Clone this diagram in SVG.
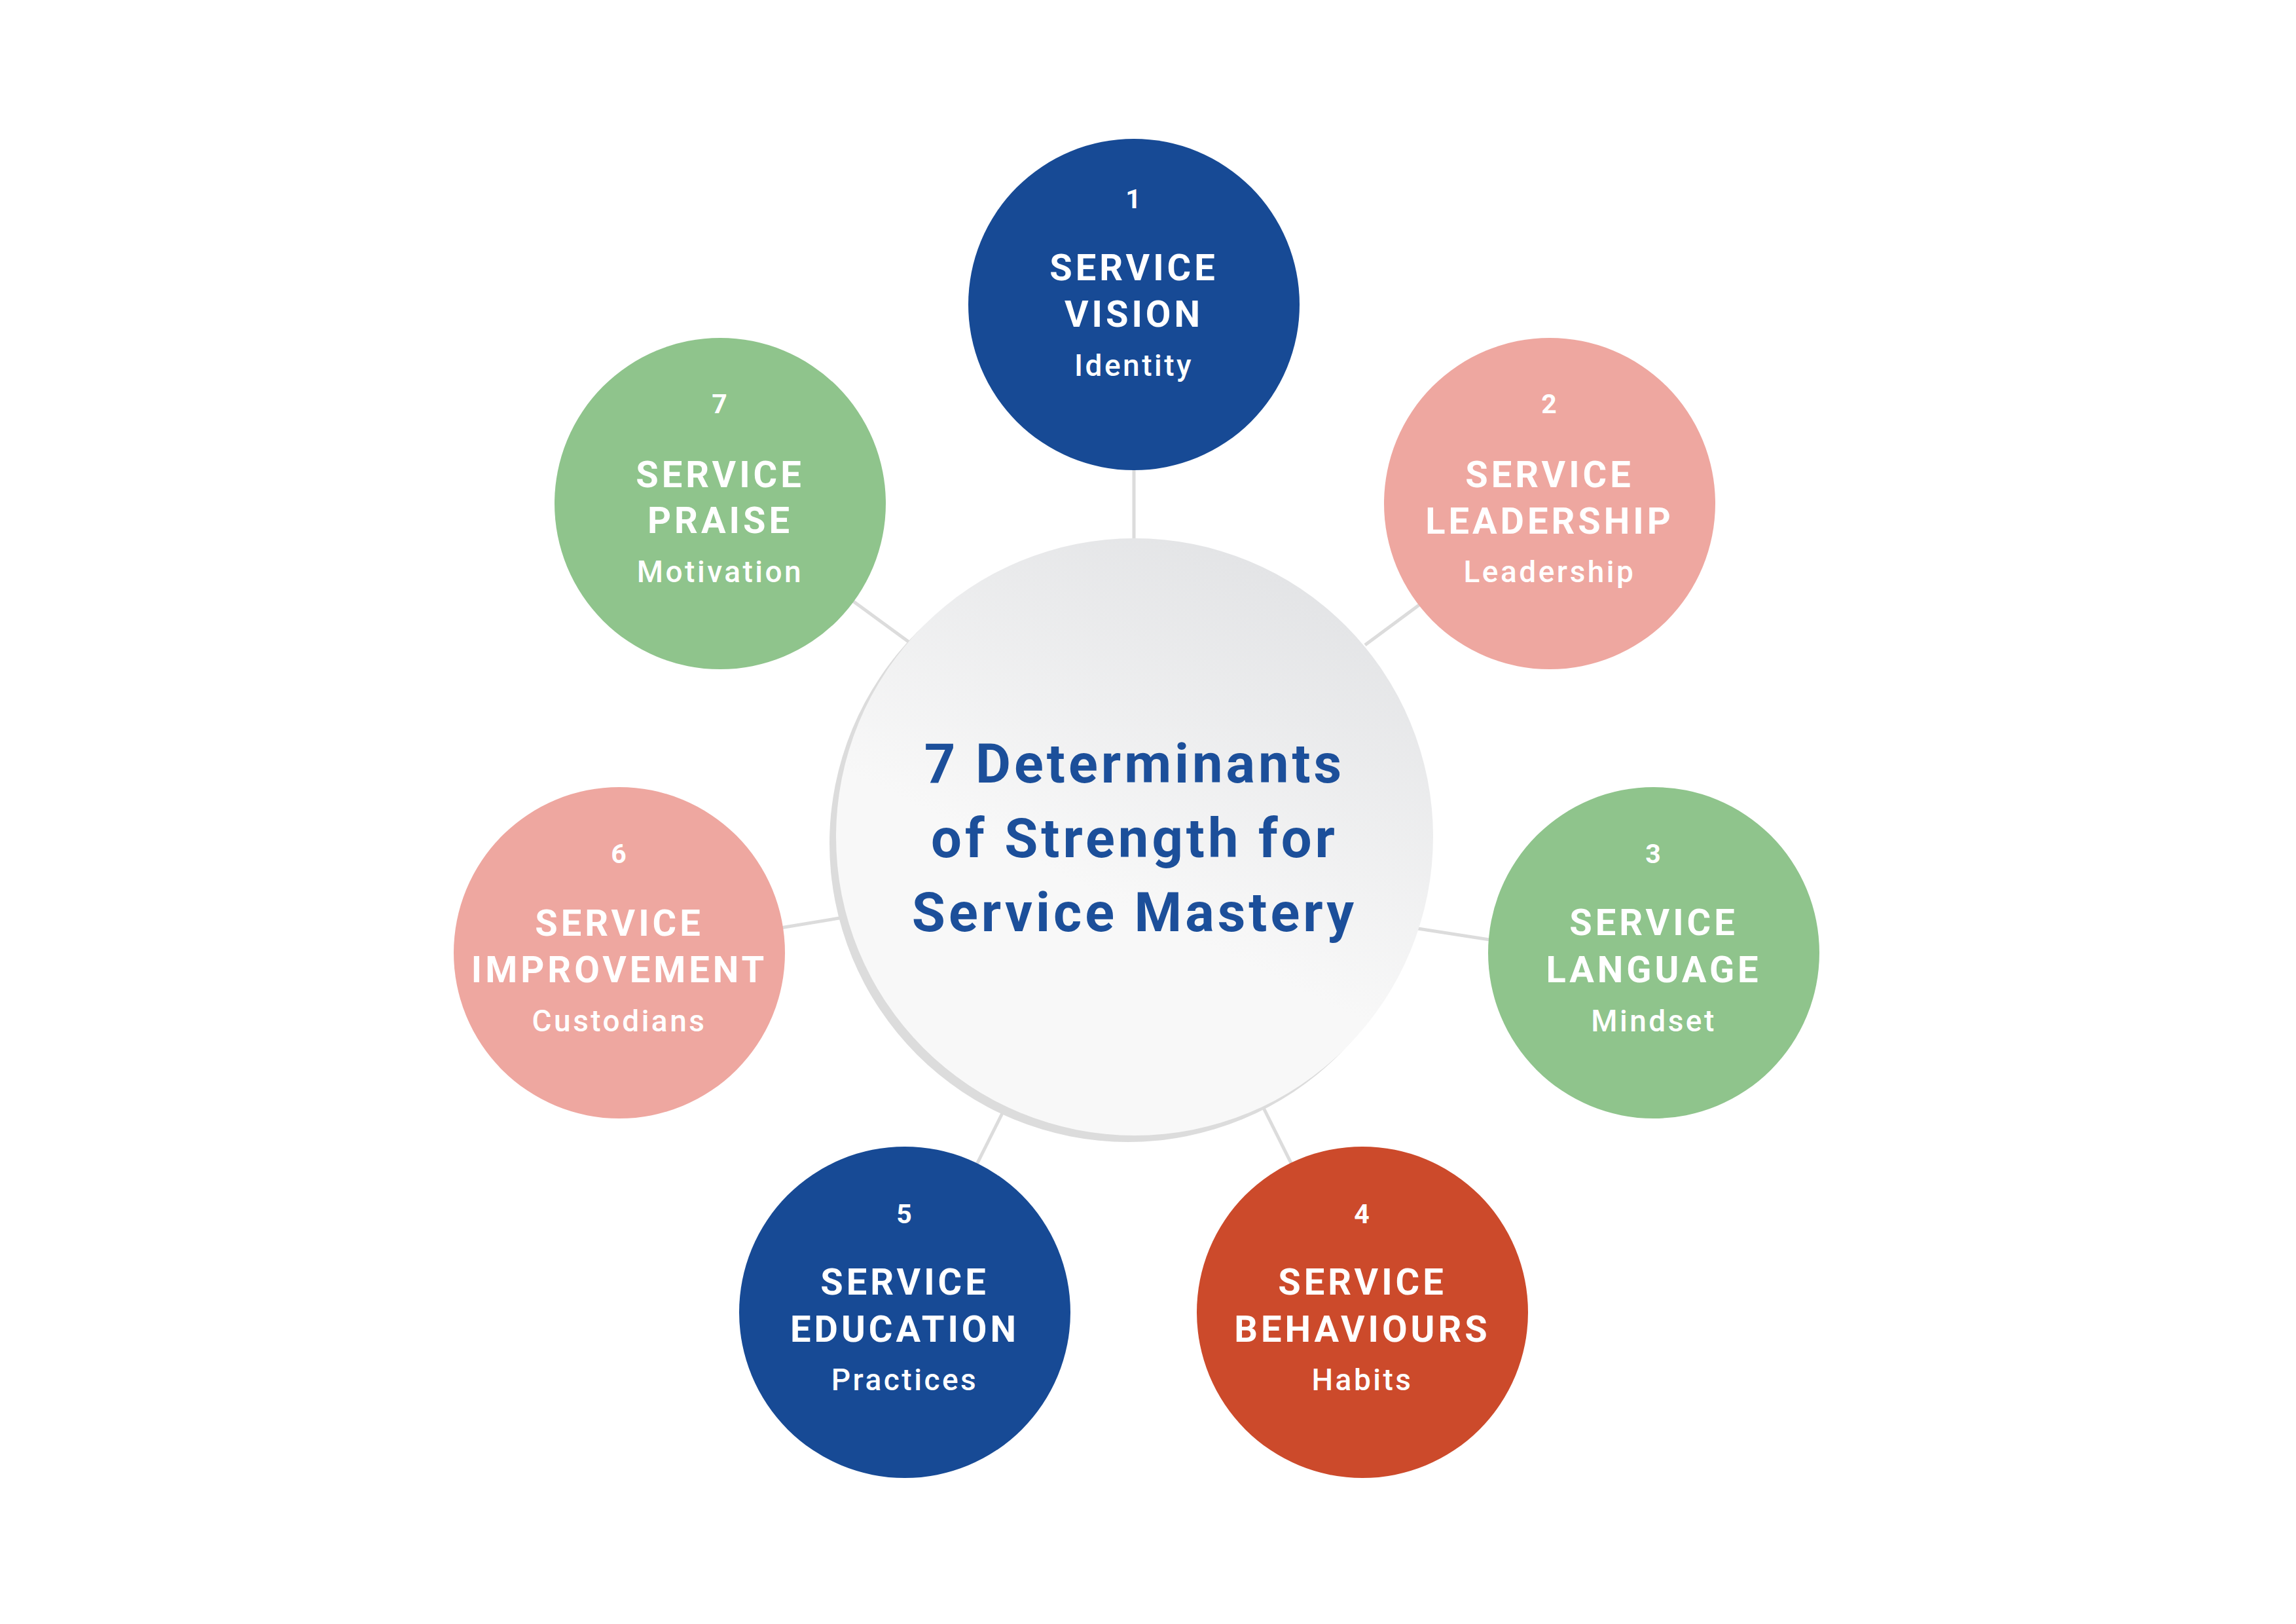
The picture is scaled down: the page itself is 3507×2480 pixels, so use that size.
<svg xmlns="http://www.w3.org/2000/svg" width="3507" height="2480" viewBox="0 0 3507 2480">
<defs>
<linearGradient id="cg" x1="0.72" y1="0.04" x2="0.45" y2="0.6">
<stop offset="0" stop-color="#e3e4e6"/>
<stop offset="1" stop-color="#f8f8f8"/>
</linearGradient>
</defs>
<style>
.conn{stroke:#dcdcdc;stroke-width:5;fill:none;}
.num{font-family:Roboto,"Liberation Sans",sans-serif;font-weight:700;font-size:41px;fill:#ffffff;text-anchor:middle;letter-spacing:2px;}
.ttl{font-family:Roboto,"Liberation Sans",sans-serif;font-weight:700;font-size:56px;fill:#ffffff;text-anchor:middle;letter-spacing:5px;}
.sub{font-family:Roboto,"Liberation Sans",sans-serif;font-weight:500;font-size:46px;fill:#ffffff;text-anchor:middle;letter-spacing:3.5px;}
.ctr{font-family:Roboto,"Liberation Sans",sans-serif;font-weight:700;font-size:83px;fill:#1c4f9a;text-anchor:middle;letter-spacing:5px;}
.blue{fill:#174a95;}
.pink{fill:#eea7a0;}
.green{fill:#8fc48c;}
.red{fill:#cc4a2b;}
</style>
<rect x="0" y="0" width="3507" height="2480" fill="#ffffff"/>
<g id="connectors">
<line class="conn" x1="1732" y1="700" x2="1732" y2="840"/>
<line class="conn" x1="2085" y1="985" x2="2185" y2="911"/>
<line class="conn" x1="2140" y1="1414" x2="2295" y2="1438"/>
<line class="conn" x1="1922" y1="1676" x2="1985" y2="1802"/>
<line class="conn" x1="1538" y1="1686" x2="1480" y2="1802"/>
<line class="conn" x1="1180" y1="1419" x2="1300" y2="1399"/>
<line class="conn" x1="1288" y1="907" x2="1400" y2="989"/>
</g>
<g id="center">
<circle cx="1723" cy="1288" r="456" fill="#dcdcdc"/>
<circle cx="1733" cy="1278" r="456" fill="url(#cg)"/>
<text class="ctr" x="1733" y="1195">7 Determinants</text>
<text class="ctr" x="1733" y="1309">of Strength for</text>
<text class="ctr" x="1733" y="1422">Service Mastery</text>
</g>
<g id="node1">
<circle class="blue" cx="1732" cy="465" r="253"/>
<text class="num" x="1732" y="318">1</text>
<text class="ttl" x="1732" y="428">SERVICE</text>
<text class="ttl" x="1732" y="499">VISION</text>
<text class="sub" x="1732" y="574">Identity</text>
</g>
<g id="node2">
<circle class="pink" cx="2367" cy="769" r="253"/>
<text class="num" x="2367" y="631">2</text>
<text class="ttl" x="2367" y="744">SERVICE</text>
<text class="ttl" x="2367" y="815">LEADERSHIP</text>
<text class="sub" x="2367" y="889">Leadership</text>
</g>
<g id="node3">
<circle class="green" cx="2526" cy="1455" r="253"/>
<text class="num" x="2526" y="1318">3</text>
<text class="ttl" x="2526" y="1428">SERVICE</text>
<text class="ttl" x="2526" y="1500">LANGUAGE</text>
<text class="sub" x="2526" y="1575">Mindset</text>
</g>
<g id="node4">
<circle class="red" cx="2081" cy="2004" r="253"/>
<text class="num" x="2081" y="1868">4</text>
<text class="ttl" x="2081" y="1977">SERVICE</text>
<text class="ttl" x="2081" y="2049">BEHAVIOURS</text>
<text class="sub" x="2081" y="2123">Habits</text>
</g>
<g id="node5">
<circle class="blue" cx="1382" cy="2004" r="253"/>
<text class="num" x="1382" y="1868">5</text>
<text class="ttl" x="1382" y="1977">SERVICE</text>
<text class="ttl" x="1382" y="2049">EDUCATION</text>
<text class="sub" x="1382" y="2123">Practices</text>
</g>
<g id="node6">
<circle class="pink" cx="946" cy="1455" r="253"/>
<text class="num" x="946" y="1318">6</text>
<text class="ttl" x="946" y="1429">SERVICE</text>
<text class="ttl" x="946" y="1500">IMPROVEMENT</text>
<text class="sub" x="946" y="1575">Custodians</text>
</g>
<g id="node7">
<circle class="green" cx="1100" cy="769" r="253"/>
<text class="num" x="1100" y="631">7</text>
<text class="ttl" x="1100" y="744">SERVICE</text>
<text class="ttl" x="1100" y="814">PRAISE</text>
<text class="sub" x="1100" y="889">Motivation</text>
</g>
</svg>
